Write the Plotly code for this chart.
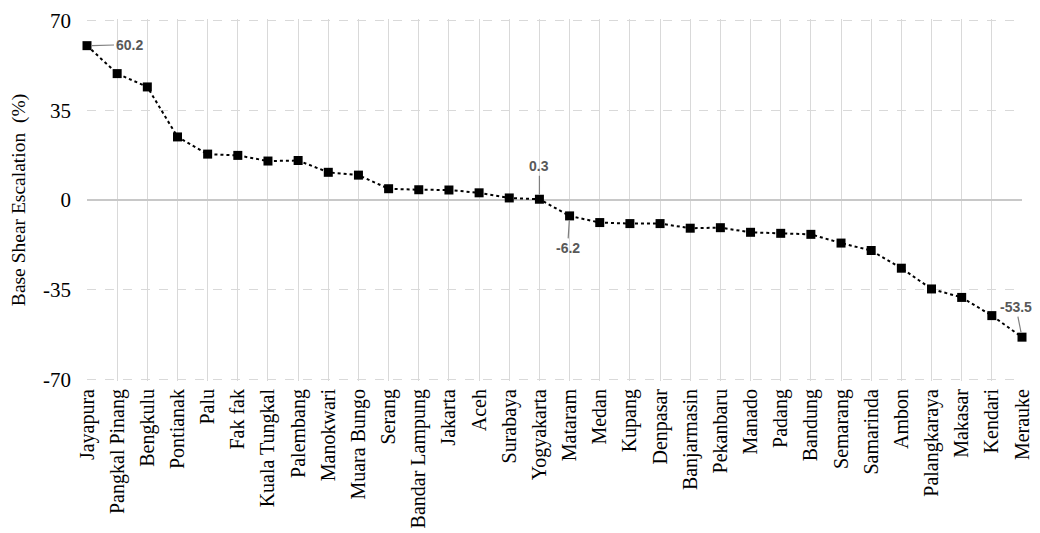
import plotly.graph_objects as go

cities = ["Jayapura", "Pangkal Pinang", "Bengkulu", "Pontianak", "Palu", "Fak fak",
          "Kuala Tungkal", "Palembang", "Manokwari", "Muara Bungo", "Serang",
          "Bandar Lampung", "Jakarta", "Aceh", "Surabaya", "Yogyakarta", "Mataram",
          "Medan", "Kupang", "Denpasar", "Banjarmasin", "Pekanbaru", "Manado",
          "Padang", "Bandung", "Semarang", "Samarinda", "Ambon", "Palangkaraya",
          "Makasar", "Kendari", "Merauke"]
escalation = [60.2, 49.3, 44.1, 24.6, 17.9, 17.4, 15.2, 15.4, 10.8, 9.7, 4.4,
              4.0, 3.9, 2.8, 0.8, 0.3, -6.2, -8.8, -9.2, -9.2, -11.0, -10.8,
              -12.6, -13.0, -13.4, -16.8, -19.7, -26.6, -34.7, -38.0, -45.1, -53.5]
y_ticks = [-70, -35, 0, 35, 70]
y_tick_text = ["-70", "-35", "0", "35", "70"]

labelled = {"Jayapura": (42, -1), "Yogyakarta": (0, -33),
            "Mataram": (-2, 32), "Merauke": (-6, -30)}

fig = go.Figure()
fig.add_trace(go.Scatter(
    x=cities, y=escalation, mode="lines+markers",
    line=dict(color="black", width=2, dash="dot"),
    marker=dict(symbol="square", size=9, color="black"),
    cliponaxis=False, showlegend=False))

for name, (ax, ay) in labelled.items():
    i = cities.index(name)
    fig.add_annotation(
        x=name, y=escalation[i], text=f"{escalation[i]}",
        showarrow=True, arrowhead=0, arrowwidth=1.2, arrowcolor="#7f7f7f",
        ax=ax, ay=ay, standoff=5,
        font=dict(family="Liberation Sans", size=14, color="#595959", weight="bold"))

fig.update_layout(
    width=1040, height=533,
    margin=dict(l=79, r=26, t=11, b=160),
    paper_bgcolor="white", plot_bgcolor="white",
    font=dict(family="Liberation Serif", color="black"),
)
fig.update_xaxes(
    type="category", range=[0, len(cities) - 1], automargin=False,
    tickangle=-90, tickfont=dict(size=20, family="Liberation Serif"),
    showgrid=True, gridcolor="#d9d9d9", gridwidth=1,
    showline=False, ticks="", ticklabelstandoff=3,
)
fig.update_yaxes(
    range=[-70.6, 70.6], tickvals=y_ticks, ticktext=y_tick_text, automargin=False,
    tickfont=dict(size=21, family="Liberation Serif"),
    showgrid=True, gridcolor="#d9d9d9", gridwidth=1, griddash="dash",
    zeroline=True, zerolinecolor="#c8c8c8", zerolinewidth=1.5,
    showline=False, ticks="", ticklabelstandoff=15,
    title=dict(text="Base Shear Escalation  (%)", font=dict(size=19.5, family="Liberation Serif"),
               standoff=12),
)

fig.write_html("out.html")
